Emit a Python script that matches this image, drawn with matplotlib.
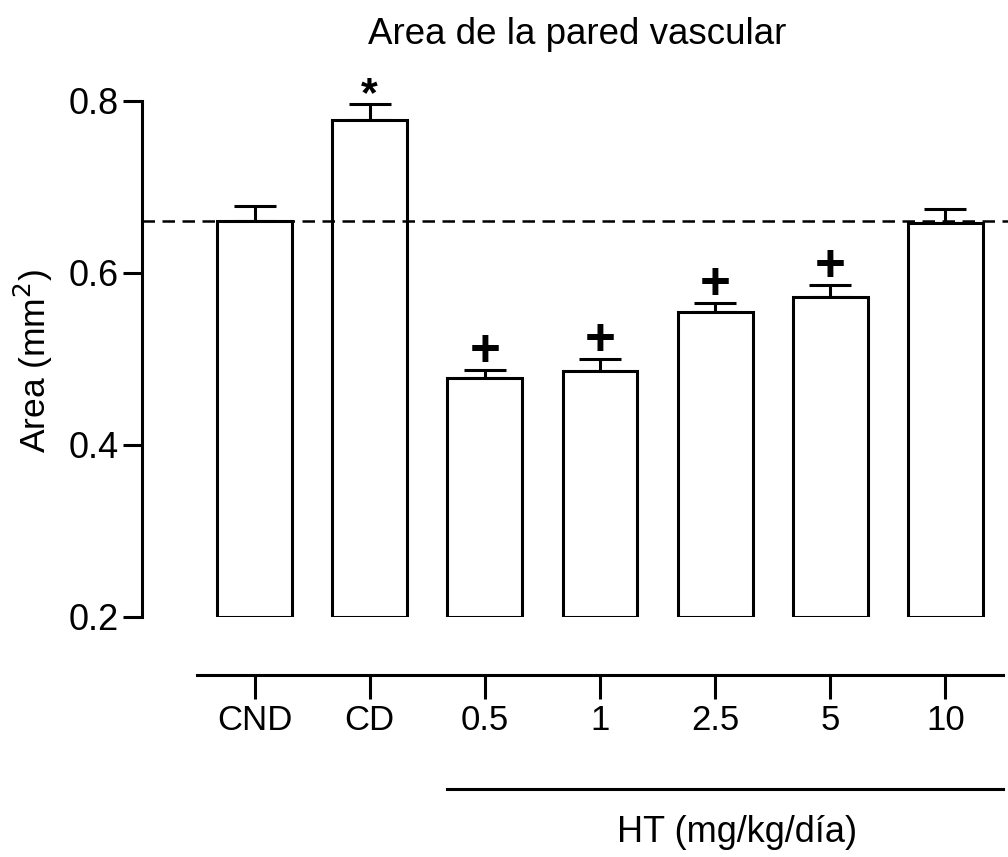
import numpy as np
import matplotlib
matplotlib.use("Agg")
import matplotlib.pyplot as plt
from matplotlib.transforms import blended_transform_factory

plt.rcParams['font.family'] = ['Liberation Sans', 'DejaVu Sans']

groups = ["CND", "CD", "0.5", "1", "2.5", "5", "10"]
area = [0.660, 0.778, 0.478, 0.486, 0.555, 0.572, 0.658]
sem = [0.018, 0.019, 0.009, 0.014, 0.010, 0.014, 0.016]
marks = ["", "*", "+", "+", "+", "+", ""]
control_level = 0.661
baseline = 0.2

W, H = 1008, 857
fig = plt.figure(figsize=(W / 100, H / 100), dpi=100)

# main axes: data x -0.5 -> px 197, 6.5 -> px 1003
px_per_unit = (1003 - 197) / 7.0
x_left = -0.5 - (197 - 142) / px_per_unit
x_right = 6.5 + (1008 - 1003) / px_per_unit
y_top = 0.83
ax = fig.add_axes([142 / W, (H - 617) / H, (1008 - 142) / W, (y_top - baseline) * 860 / H])

x = np.arange(len(groups))
vals = np.array(area)
lw = 2.2
bw = 0.65
ax.bar(x, vals - baseline, bottom=baseline, width=bw, facecolor="white",
       edgecolor="black", linewidth=lw, zorder=3)
ax.errorbar(x, vals, yerr=[np.zeros_like(vals), sem], fmt="none", ecolor="black",
            elinewidth=lw, capsize=15, capthick=lw, zorder=2)
ax.axhline(control_level, color="black", lw=1.8, ls=(0, (5, 3)), zorder=4)

for xi, v, e, m in zip(x, vals, sem, marks):
    if m == "*":
        ax.text(xi, v + e - 0.003, m, ha="center", va="baseline", fontsize=31,
                fontweight="bold")
    elif m == "+":
        ax.text(xi, v + e - 0.008, m, ha="center", va="bottom", fontsize=38,
                fontweight="bold")

ax.set_xlim(x_left, x_right)
ax.set_ylim(baseline, y_top)
ax.set_yticks([0.2, 0.4, 0.6, 0.8])
ax.set_yticklabels(["0.2", "0.4", "0.6", "0.8"])
ax.tick_params(axis="y", length=14, width=lw, labelsize=26, pad=3)
ax.set_xticks([])
for s in ["top", "right", "bottom"]:
    ax.spines[s].set_visible(False)
ax.spines["left"].set_linewidth(lw)
ax.spines["left"].set_bounds(0.2, 0.8)
ax.patch.set_visible(False)

# group axis below the bars
ax2 = fig.add_axes([142 / W, (H - 675) / H, (1008 - 142) / W, 0.001])
ax2.set_xlim(x_left, x_right)
ax2.set_xticks(x)
ax2.set_xticklabels(groups)
ax2.set_yticks([])
ax2.tick_params(axis="x", length=17, width=lw, labelsize=25, pad=4)
for s in ["top", "right", "left"]:
    ax2.spines[s].set_visible(False)
ax2.spines["bottom"].set_linewidth(lw)
ax2.spines["bottom"].set_bounds(-0.5, 6.5)
ax2.patch.set_visible(False)

tr = blended_transform_factory(ax2.transData, fig.transFigure)
ax2.plot([2 - bw / 2, 6.5], [(H - 789) / H] * 2, color="black", lw=lw,
         transform=tr, clip_on=False)
fig.text(737 / W, (H - 833) / H, "HT (mg/kg/día)", ha="center", va="center",
         fontsize=26)

fig.text(577 / W, (H - 34) / H, "Area de la pared vascular", ha="center",
         va="center", fontsize=26.5)
fig.text(33 / W, (H - 361) / H, "Area (mm$^2$)", rotation=90, ha="center",
         va="center", fontsize=25.5)

fig.savefig("out.png", dpi=100)
